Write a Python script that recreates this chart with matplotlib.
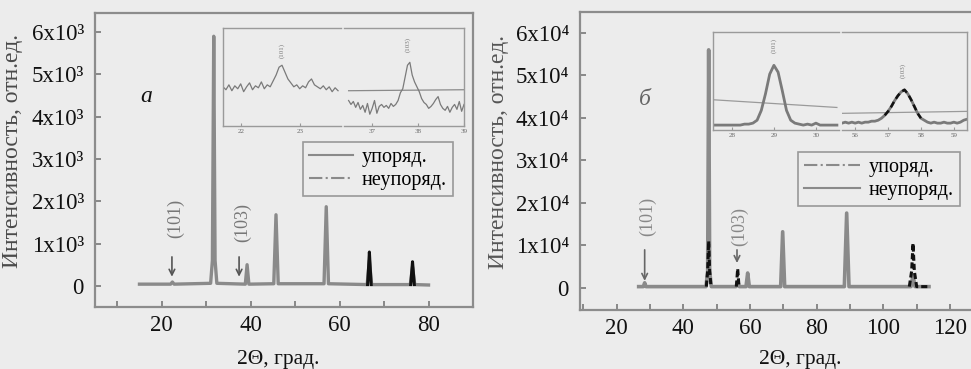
import numpy as np
import matplotlib
matplotlib.use("Agg")
import matplotlib.pyplot as plt
from matplotlib.lines import Line2D
from matplotlib.ticker import MultipleLocator

plt.rcParams['font.family'] = ['Liberation Serif', 'DejaVu Serif']

BG = '#ececec'
GREY = '#8a8a8a'
DARK = '#111111'
nan = float('nan')

# Панель а: упорядоченный (серый) и неупорядоченный (чёрный)
x_a_ord = [15, 22.0, 22.4, 22.8, 31.0, 31.4, 31.7, 32.0, 32.4, 38.8, 39.2, 39.6,
           45.2, 45.7, 46.2, 56.5, 57.0, 57.5, 66.2, 66.7, 67.2, 75.9, 76.4, 76.9, 80]
y_a_ord = [40, 40, 90, 40, 60, 600, 5900, 600, 60, 40, 500, 40,
           50, 1680, 50, 50, 1870, 50, 30, 600, 30, 30, 450, 30, 20]
x_a_dis = [66.3, 66.5, 66.7, 66.9, 67.1, nan, 76.0, 76.2, 76.4, 76.6, 76.8]
y_a_dis = [30, 400, 800, 400, 30, nan, 30, 300, 570, 300, 30]

# Панель б: неупорядоченный (серый) и упорядоченный (чёрный)
x_b_dis = [26.6, 28.0, 28.4, 28.8, 46.8, 47.3, 47.6, 47.9, 48.4, 55.8, 56.3, 56.8,
           58.8, 59.3, 59.8, 69.2, 69.8, 70.4, 88.3, 89.0, 89.7, 108.3, 108.9, 109.5, 113.7]
y_b_dis = [300, 300, 1200, 300, 300, 4000, 56000, 4000, 300, 300, 1500, 300,
           300, 3500, 300, 300, 13200, 300, 300, 17600, 300, 300, 3000, 300, 300]
x_b_ord = [46.9, 47.3, 47.6, 47.9, 48.3, nan, 55.9, 56.3, 56.7, nan,
           107.8, 108.5, 108.9, 109.3, 110.0, 113.7]
y_b_ord = [300, 4000, 11000, 4000, 300, nan, 300, 4500, 300, nan,
           300, 4000, 10500, 4000, 300, 300]

# Вставка панели а
ins_a1_range = (21.7, 23.65)
ins_a1_y = [40, 37, 42, 36, 41, 38, 43, 35, 40, 44, 37, 41, 39, 45, 38, 42, 40, 46, 52, 60,
            62, 55, 48, 44, 40, 42, 38, 41, 39, 45, 48, 42, 40, 38, 41, 37, 40, 35, 39, 36]
ins_a2_range = (36.5, 39.0)
ins_a2_y = [26, 22, 25, 19, 24, 17, 21, 14, 23, 12, 18, 26, 13, 20, 22, 19, 21, 18, 23, 20,
            22, 26, 34, 38, 50, 62, 65, 52, 45, 40, 35, 28, 24, 22, 18, 20, 23, 27, 30, 22,
            18, 16, 20, 14, 19, 22, 17, 25, 15, 22]
ins_a2_flat = [36, 37]

# Вставка панели б
ins_b1_range = (27.5, 30.5)
ins_b1_y = [5, 5, 5, 5, 5, 5, 5, 5, 6, 6, 7, 10, 20, 37, 57, 66, 59, 40, 20, 10,
            7, 6, 5, 6, 5, 7, 5, 5, 5, 5, 5]
ins_b1_flat = [31, 23]
ins_b2_range = (55.6, 59.4)
ins_b2_y = [7, 8, 7, 8, 7, 8, 7, 8, 8, 9, 9, 10, 12, 15, 19, 24, 30, 35, 39, 41,
            37, 31, 24, 17, 12, 10, 8, 7, 8, 7, 7, 8, 7, 7, 8, 7, 8, 10, 11]
ins_b2_flat = [17, 19]

yt_a = [0, 1000, 2000, 3000, 4000, 5000, 6000]
yt_a_lab = ['0'] + ['%dx10³' % i for i in range(1, 7)]
yt_b = [0, 10000, 20000, 30000, 40000, 50000, 60000]
yt_b_lab = ['0'] + ['%dx10⁴' % i for i in range(1, 7)]

W, H = 971, 369
fig = plt.figure(figsize=(W / 100, H / 100), dpi=100, facecolor=BG)


def px_axes(x0, y0, x1, y1):
    ax = fig.add_axes([x0 / W, 1 - y1 / H, (x1 - x0) / W, (y1 - y0) / H])
    ax.set_facecolor(BG)
    return ax


def style_main(ax):
    for s in ax.spines.values():
        s.set_color('#8c8c8c')
        s.set_linewidth(1.6)
    ax.xaxis.set_major_locator(MultipleLocator(20))
    ax.xaxis.set_minor_locator(MultipleLocator(10))
    ax.tick_params(which='both', direction='in', color='#777', length=4, width=1.2,
                   labelsize=16.5, labelcolor=DARK, pad=6)
    ax.tick_params(axis='y', pad=8)


def style_inset(ax, side):
    for s in ax.spines.values():
        s.set_color('#9a9a9a')
        s.set_linewidth(1.0)
    ax.spines[side].set_visible(False)
    ax.set_yticks([])
    ax.set_ylim(0, 100)
    ax.tick_params(direction='in', length=2, color='#999', labelsize=5,
                   labelcolor='#666', pad=2)


# ---------- панель а ----------
ax1 = px_axes(95, 13, 473, 307)
ax1.plot(x_a_ord, y_a_ord, color=GREY, lw=2.4, zorder=2)
ax1.plot(x_a_dis, y_a_dis, color=DARK, lw=2.2, zorder=3)
ax1.set_xlim(5, 90)
ax1.set_ylim(-500, 6450)
ax1.set_yticks(yt_a)
ax1.set_yticklabels(yt_a_lab)
style_main(ax1)
ax1.set_xlabel('2Θ, град.', fontsize=15.5, color=DARK)
ax1.xaxis.set_label_coords(0.484, -0.145)
ax1.set_ylabel('Интенсивность, отн.ед.', fontsize=17, color='#4a4a4a')
ax1.yaxis.set_label_coords(-0.19, 0.53)
ax1.text(16.6, 4470, 'a', fontsize=17, style='italic', color=DARK, ha='center', va='center')
for xa, lab, yl in [(22.3, '(101)', 1600), (37.4, '(103)', 1500)]:
    ax1.annotate('', xy=(xa, 150), xytext=(xa, 750),
                 arrowprops=dict(arrowstyle='->', color='#555', lw=1.2))
    ax1.text(xa + 0.8, yl, lab, rotation=90, fontsize=13, color='#777',
             ha='center', va='center')
leg1 = ax1.legend([Line2D([], [], color=GREY, lw=1.5),
                   Line2D([], [], color=GREY, lw=1.5, ls='-.')],
                  ['упоряд.', 'неупоряд.'], loc='upper left',
                  bbox_to_anchor=(303 / W, 1 - 142 / H), bbox_transform=fig.transFigure,
                  fontsize=14.5, frameon=True, fancybox=False, edgecolor='#999',
                  facecolor=BG, framealpha=1, handlelength=2.2, borderpad=0.3,
                  labelspacing=0.2, handletextpad=0.4, borderaxespad=0)
leg1.get_frame().set_linewidth(1.2)

ia1 = px_axes(223, 28, 341, 126)
ia1.plot(np.linspace(*ins_a1_range, len(ins_a1_y)), ins_a1_y, color='#7a7a7a', lw=0.9)
ia1.set_xlim(21.7, 23.7)
ia1.set_xticks([22, 23])
style_inset(ia1, 'right')
ia1.text(22.7, 77, '(101)', rotation=90, fontsize=5, color='#777', ha='center', va='center')

ia2 = px_axes(344, 28, 464, 126)
ia2.plot(ins_a2_range, ins_a2_flat, color='#8a8a8a', lw=0.9)
ia2.plot(np.linspace(*ins_a2_range, len(ins_a2_y)), ins_a2_y, color='#7a7a7a', lw=0.9)
ia2.set_xlim(36.4, 39.0)
ia2.set_xticks([37, 38, 39])
style_inset(ia2, 'left')
ia2.text(37.78, 83, '(103)', rotation=90, fontsize=5, color='#777', ha='center', va='center')

# ---------- панель б ----------
ax2 = px_axes(580, 12, 1000, 310)
ax2.plot(x_b_dis, y_b_dis, color=GREY, lw=2.6, zorder=2)
ax2.plot(x_b_ord, y_b_ord, color=DARK, lw=2.2, ls=(0, (2, 1)), zorder=3)
ax2.set_xlim(9, 135)
ax2.set_ylim(-5200, 64900)
ax2.set_yticks(yt_b)
ax2.set_yticklabels(yt_b_lab)
style_main(ax2)
ax2.set_xlabel('2Θ, град.', fontsize=15.5, color=DARK)
ax2.xaxis.set_label_coords(0.524, -0.134)
ax2.set_ylabel('Интенсивность, отн.ед.', fontsize=17, color='#555')
ax2.yaxis.set_label_coords(-0.17, 0.53)
ax2.text(28.4, 44200, 'б', fontsize=17, style='italic', color='#666', ha='center', va='center')
for xa, lab, yl, y_end in [(28.4, '(101)', 16700, 1000), (56.1, '(103)', 14400, 5200)]:
    ax2.annotate('', xy=(xa, y_end), xytext=(xa, 9600),
                 arrowprops=dict(arrowstyle='->', color='#666', lw=1.2))
    ax2.text(xa + 0.8, yl, lab, rotation=90, fontsize=13, color='#888',
             ha='center', va='center')
leg2 = ax2.legend([Line2D([], [], color=GREY, lw=1.5, ls='-.'),
                   Line2D([], [], color=GREY, lw=1.5)],
                  ['упоряд.', 'неупоряд.'], loc='upper left',
                  bbox_to_anchor=(798 / W, 1 - 152 / H), bbox_transform=fig.transFigure,
                  fontsize=14.5, frameon=True, fancybox=False, edgecolor='#999',
                  facecolor=BG, framealpha=1, handlelength=2.8, borderpad=0.3,
                  labelspacing=0.2, handletextpad=0.4, borderaxespad=0)
leg2.get_frame().set_linewidth(1.2)

ib1 = px_axes(713, 32, 839, 130)
ib1.plot(ins_b1_range, ins_b1_flat, color='#9a9a9a', lw=0.9)
ib1.plot(np.linspace(*ins_b1_range, len(ins_b1_y)), ins_b1_y, color='#7a7a7a', lw=2.0)
ib1.set_xlim(27.55, 30.55)
ib1.set_xticks([28, 29, 30])
style_inset(ib1, 'right')
ib1.text(29.0, 86, '(101)', rotation=90, fontsize=5, color='#777', ha='center', va='center')

ib2 = px_axes(842, 32, 967, 130)
ib2.plot(ins_b2_range, ins_b2_flat, color='#9a9a9a', lw=0.9)
xb2 = np.linspace(*ins_b2_range, len(ins_b2_y))
ib2.plot(xb2, ins_b2_y, color='#7a7a7a', lw=2.0)
ib2.plot(xb2[13:25], ins_b2_y[13:25], color=DARK, lw=1.8, ls=(0, (2.5, 1.5)))
ib2.set_xlim(55.6, 59.4)
ib2.set_xticks([56, 57, 58, 59])
style_inset(ib2, 'left')
ib2.text(57.45, 61, '(103)', rotation=90, fontsize=5, color='#777', ha='center', va='center')

fig.savefig('out.png', dpi=100, facecolor=BG)
